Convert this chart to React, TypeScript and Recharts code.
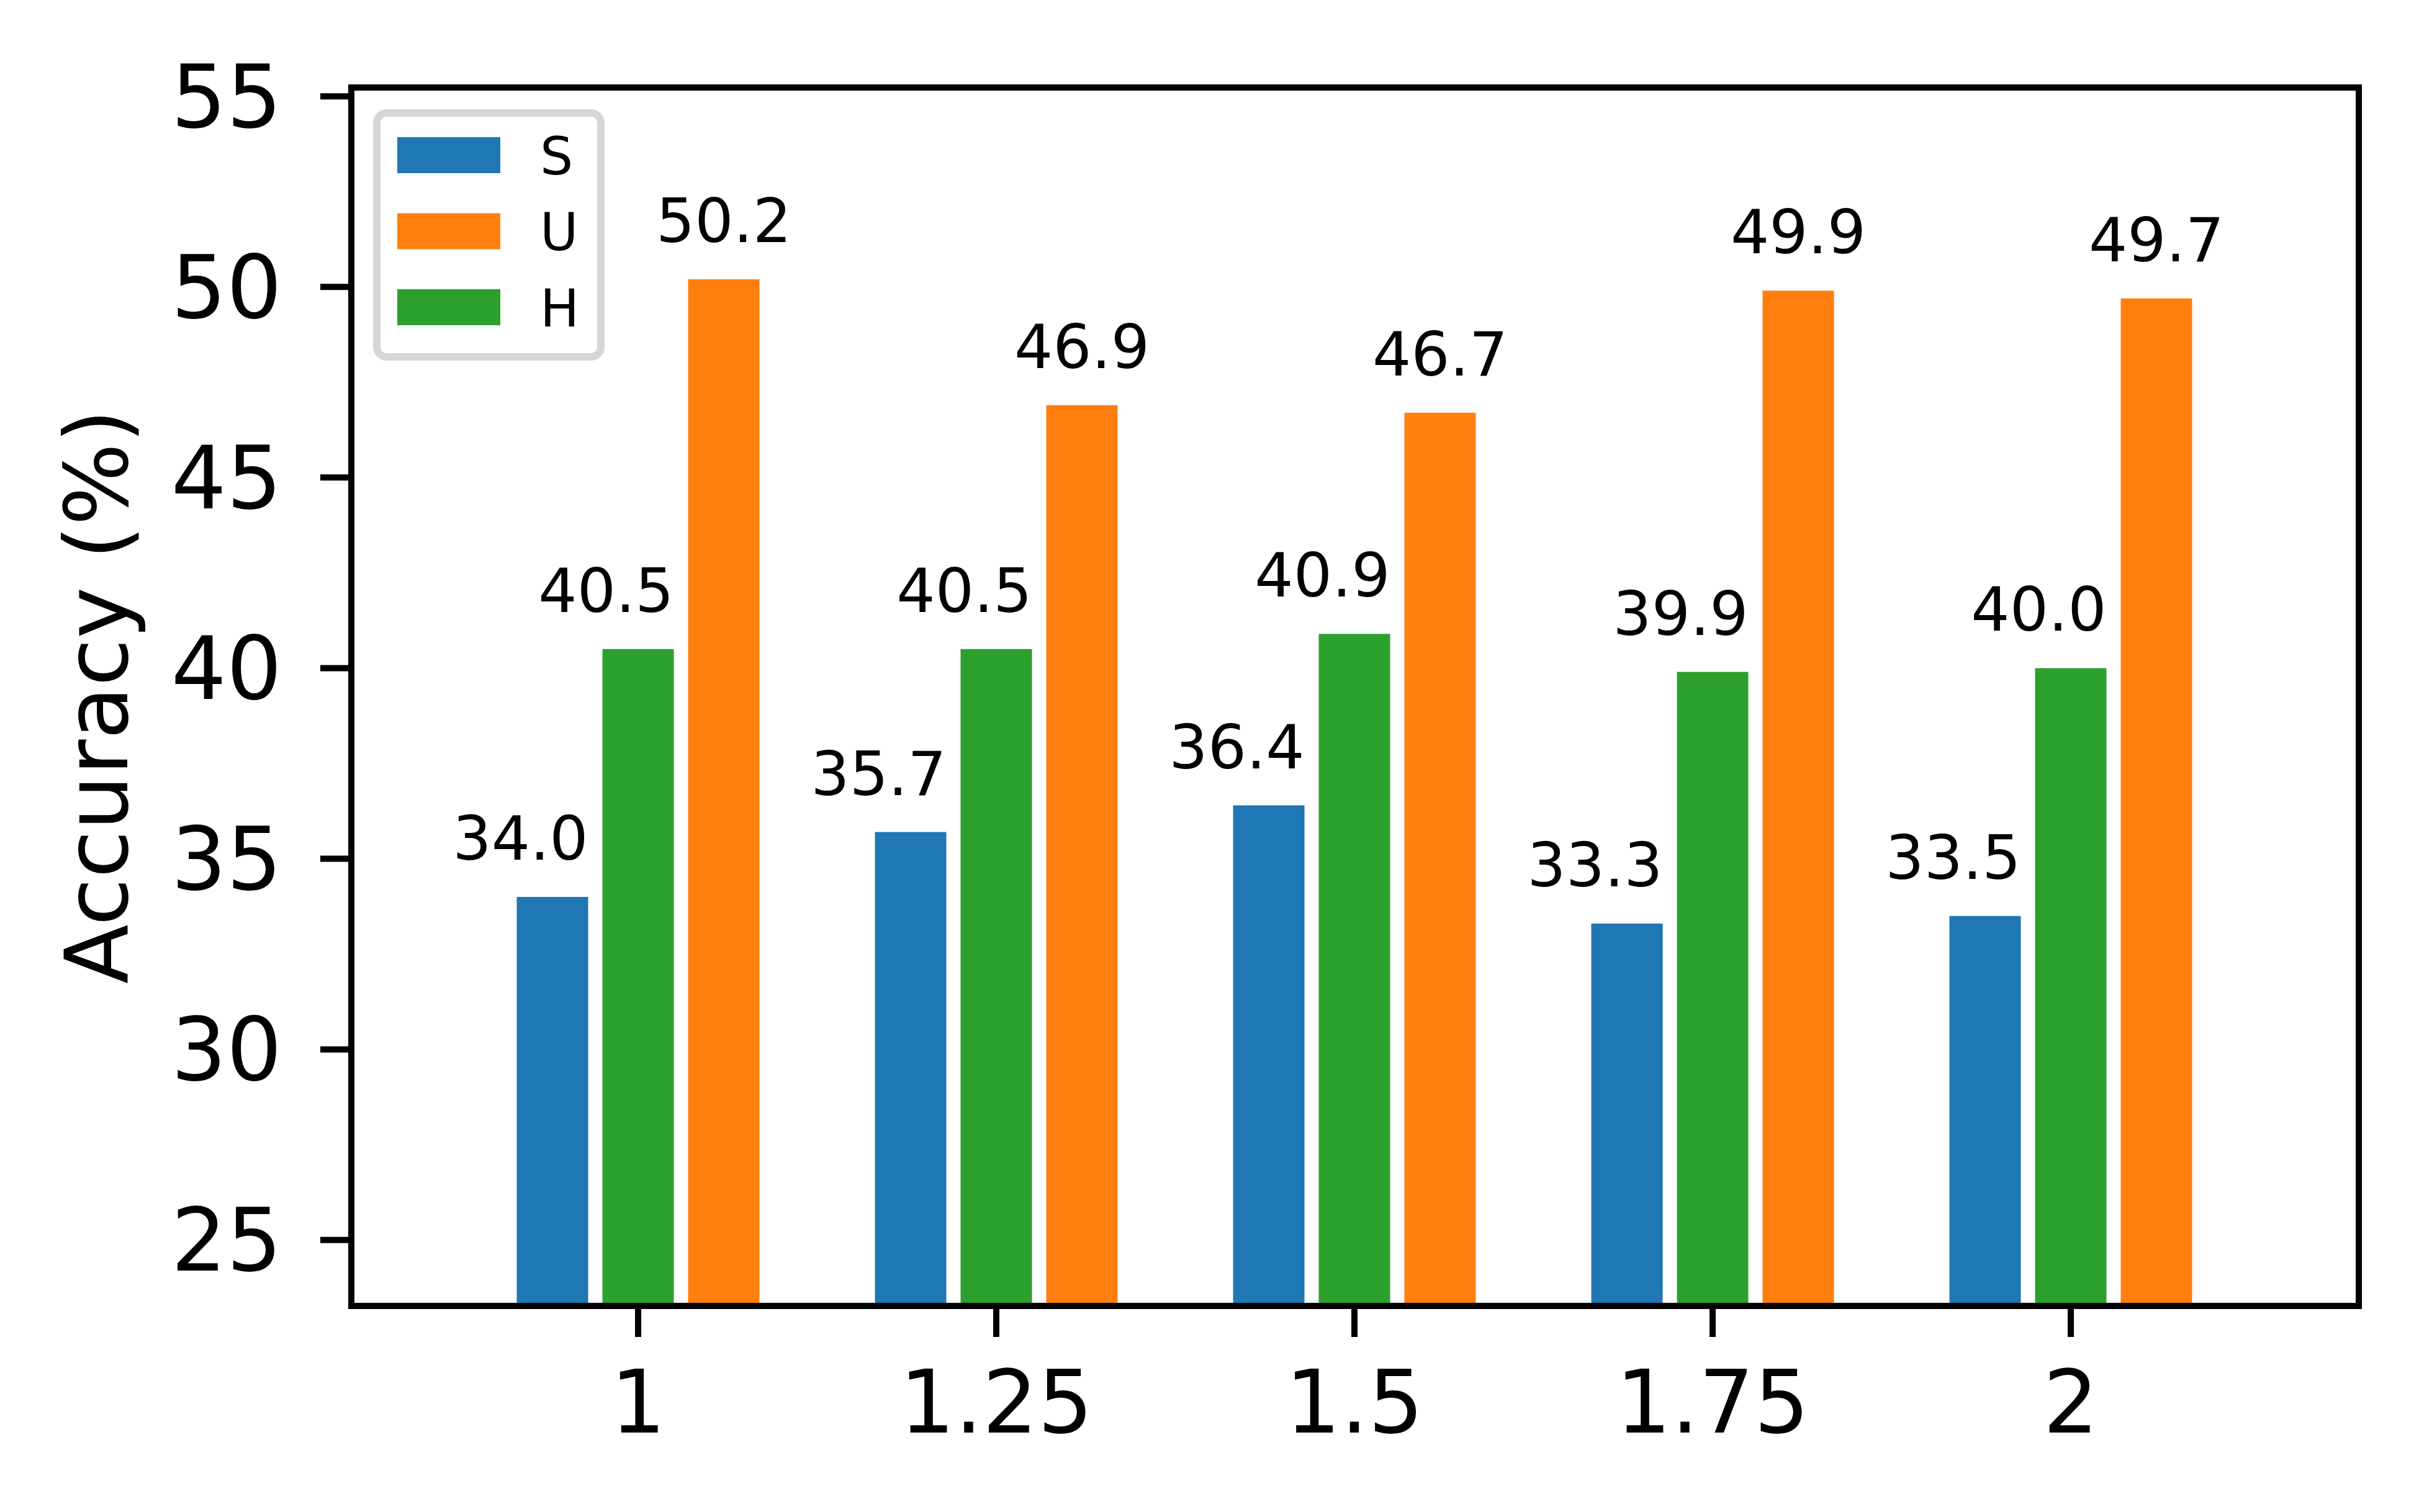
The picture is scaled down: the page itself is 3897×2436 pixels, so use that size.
import React from "react";
import { BarChart, Bar, XAxis, YAxis, LabelList } from "recharts";

const CATEGORIES = ["1", "1.25", "1.5", "1.75", "2"];
const S_VALUES = [34.0, 35.7, 36.4, 33.3, 33.5];
const U_VALUES = [50.2, 46.9, 46.7, 49.9, 49.7];
const H_VALUES = [40.5, 40.5, 40.9, 39.9, 40.0];
const Y_TICKS = [25, 30, 35, 40, 45, 50, 55];
const Y_DOMAIN = [23.27, 55.23];

const BLUE = "#1f77b4";
const ORANGE = "#ff7f0e";
const GREEN = "#2ca02c";
const FONT = "'DejaVu Sans', sans-serif";

const LEGEND_ITEMS = [
  { name: "S", color: BLUE },
  { name: "U", color: ORANGE },
  { name: "H", color: GREEN },
];

const data = CATEGORIES.map((x, i) => ({
  x,
  S: S_VALUES[i],
  U: U_VALUES[i],
  H: H_VALUES[i],
}));

const W = 3897;
const H = 2436;
const spine = { stroke: "#000", strokeWidth: 10, strokeLinecap: "square" as const };

// S and H labels sit flush with the bar's right edge, U labels are centred
function makeLabel(anchor: "end" | "middle") {
  return (props: any) => {
    const { x, y, width, value } = props;
    const tx = anchor === "end" ? Number(x) + Number(width) : Number(x) + Number(width) / 2;
    return (
      <text
        x={tx}
        y={Number(y) - 60}
        textAnchor={anchor}
        fontSize={98}
        fontFamily={FONT}
        fill="#000"
      >
        {Number(value).toFixed(1)}
      </text>
    );
  };
}

function Overlay() {
  return (
    <svg
      width={W}
      height={H}
      style={{ position: "absolute", left: 0, top: 0, pointerEvents: "none" }}
    >
      <text
        x={205}
        y={1122}
        transform="rotate(-90 205 1122)"
        textAnchor="middle"
        fontSize={140}
        fontFamily={FONT}
        fill="#000"
      >
        Accuracy (%)
      </text>
      <rect
        x={607}
        y={182}
        width={361}
        height={393}
        rx={16}
        fill="#fff"
        stroke="#d6d6d6"
        strokeWidth={12}
      />
      {LEGEND_ITEMS.map((item, i) => {
        const cy = 250 + i * 122.5;
        return (
          <g key={item.name}>
            <rect x={640} y={cy - 29} width={166} height={58} fill={item.color} />
            <text
              x={870}
              y={cy + 30.6}
              fontSize={84}
              fontFamily={FONT}
              fill="#000"
            >
              {item.name}
            </text>
          </g>
        );
      })}
    </svg>
  );
}

export default function App() {
  return (
    <div style={{ position: "absolute", left: 0, top: 0, width: W, height: H, background: "#fff" }}>
      <BarChart
        width={W}
        height={H}
        data={data}
        margin={{ top: 140, right: 96, bottom: 32, left: 166 }}
        barGap={23}
        barSize={115}
      >
        <XAxis
          dataKey="x"
          type="category"
          height={300}
          padding={{ left: 173.5, right: 175.5 }}
          axisLine={spine}
          tickLine={{ stroke: "#000", strokeWidth: 10 }}
          tickSize={50}
          tickMargin={55}
          tick={{ fontSize: 140, fontFamily: FONT, fill: "#000" }}
          interval={0}
        />
        <XAxis
          xAxisId="top"
          dataKey="x"
          orientation="top"
          height={1}
          axisLine={spine}
          tick={false}
          tickLine={false}
        />
        <YAxis
          type="number"
          width={400}
          domain={Y_DOMAIN}
          ticks={Y_TICKS}
          allowDataOverflow
          axisLine={spine}
          tickLine={{ stroke: "#000", strokeWidth: 10 }}
          tickSize={50}
          tickMargin={62}
          tick={{ fontSize: 140, fontFamily: FONT, fill: "#000" }}
          interval={0}
        />
        <YAxis
          yAxisId="right"
          orientation="right"
          type="number"
          width={1}
          domain={Y_DOMAIN}
          allowDataOverflow
          axisLine={spine}
          tick={false}
          tickLine={false}
        />
        <Bar dataKey="S" fill={BLUE} isAnimationActive={false}>
          <LabelList dataKey="S" content={makeLabel("end")} />
        </Bar>
        <Bar dataKey="H" fill={GREEN} isAnimationActive={false}>
          <LabelList dataKey="H" content={makeLabel("end")} />
        </Bar>
        <Bar dataKey="U" fill={ORANGE} isAnimationActive={false}>
          <LabelList dataKey="U" content={makeLabel("middle")} />
        </Bar>
      </BarChart>
      <Overlay />
    </div>
  );
}
